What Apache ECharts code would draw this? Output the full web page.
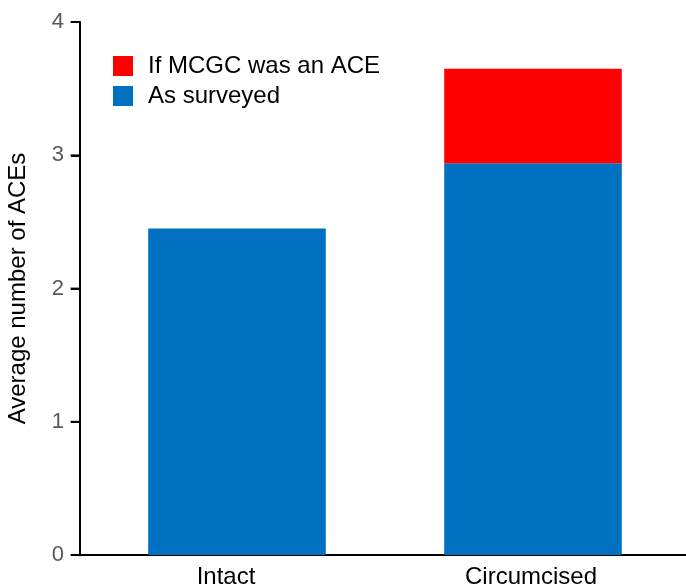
<!DOCTYPE html>
<html><head><meta charset="utf-8">
<script src="https://cdn.jsdelivr.net/npm/echarts@6/dist/echarts.min.js"></script>
<style>html,body{margin:0;padding:0;background:#fff}#c{width:686px;height:585px}</style>
</head><body><div id="c"></div>
<script>
const categories = ['Intact', 'Circumcised'];
const asSurveyed = [2.45, 2.94];
const ifMCGC = [0, 0.71];
const yTicks = [0, 1, 2, 3, 4];

const chart = echarts.init(document.getElementById('c'), null, {renderer: 'canvas'});
const font = 'Liberation Sans, Arial, sans-serif';
const labelPads = [[0, 22, 0, 0], [0, 4, 0, 0]];
const yMin = yTicks[0], yMax = yTicks[yTicks.length - 1];
chart.setOption({
  animation: false,
  textStyle: {fontFamily: font},
  grid: [
    {left: 89, right: 5, top: 22, bottom: 30, containLabel: false, outerBoundsMode: 'none'},
    {left: 80, right: 0, top: 22, bottom: 30, containLabel: false, outerBoundsMode: 'none'},
    {left: 71, width: 9, top: 22, bottom: 30, containLabel: false, outerBoundsMode: 'none'}
  ],
  legend: {
    orient: 'vertical', left: 108, top: 49, itemWidth: 20, itemHeight: 20, itemGap: 6,
    icon: 'rect',
    data: ['If MCGC was an ACE', 'As surveyed'],
    textStyle: {fontSize: 24, color: '#000', fontFamily: font, padding: [0, 0, 0, 10]}
  },
  xAxis: [
    {type: 'category', gridIndex: 0,
      data: categories.map((c, i) => ({value: c, textStyle: {padding: labelPads[i]}})),
      axisLine: {show: false}, axisTick: {show: false},
      axisLabel: {fontSize: 24, color: '#000', margin: 10}},
    {type: 'category', gridIndex: 1, data: categories,
      axisLine: {show: true, lineStyle: {color: '#000', width: 2}},
      axisTick: {show: false}, axisLabel: {show: false}},
    {type: 'value', gridIndex: 2, min: 0, max: 1,
      axisLine: {show: false}, axisTick: {show: false}, axisLabel: {show: false}, splitLine: {show: false}}
  ],
  yAxis: [
    {type: 'value', gridIndex: 0, min: yMin, max: yMax, splitNumber: 4, show: false},
    {type: 'value', gridIndex: 1, min: yMin, max: yMax, splitNumber: 4,
      name: 'Average number of ACEs', nameLocation: 'middle', nameGap: 50,
      nameTextStyle: {fontSize: 24, color: '#000'},
      axisLine: {show: true, lineStyle: {color: '#000', width: 2}},
      axisTick: {show: true, inside: false, length: 9, lineStyle: {color: '#000', width: 2}},
      axisLabel: {fontSize: 22, color: '#595959', margin: 16},
      splitLine: {show: false}},
    {type: 'value', gridIndex: 2, min: yMin, max: yMax, splitNumber: 4,
      axisLine: {show: false}, axisTick: {show: false}, axisLabel: {show: false},
      splitLine: {show: false}}
  ],
  series: [
    {name: 'As surveyed', type: 'bar', stack: 's', xAxisIndex: 0, yAxisIndex: 0,
      data: asSurveyed, barWidth: '60%', itemStyle: {color: '#0070C0'}},
    {name: 'If MCGC was an ACE', type: 'bar', stack: 's', xAxisIndex: 0, yAxisIndex: 0,
      data: ifMCGC, barWidth: '60%', itemStyle: {color: '#FF0000'}},
    {name: 'ticks', type: 'scatter', xAxisIndex: 2, yAxisIndex: 2, clip: false, silent: true,
      symbol: 'rect', symbolSize: [10, 2], itemStyle: {color: '#000'},
      data: yTicks.map(v => [0.5, v])}
  ]
});
</script></body></html>
